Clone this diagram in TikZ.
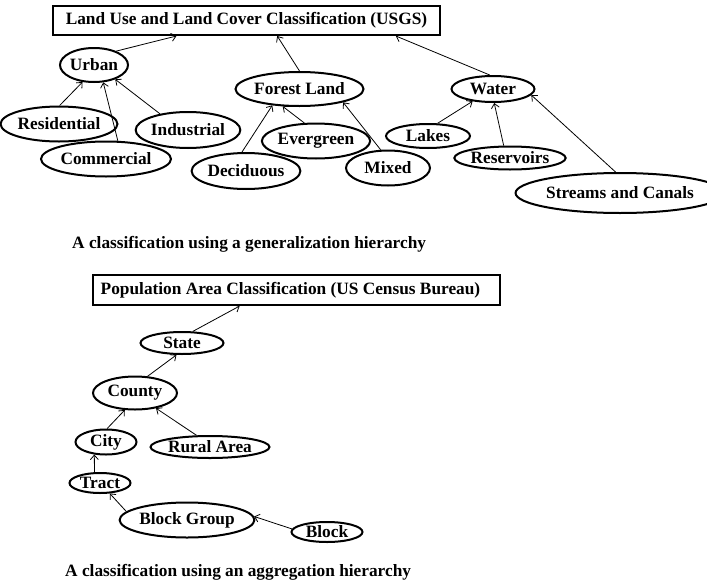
\documentclass[tikz,border=0pt]{standalone}
\usepackage{fontspec}
\setmainfont{Liberation Serif}
\usetikzlibrary{shapes.geometric,arrows.meta,calc}
\begin{document}
\begin{tikzpicture}[x=1pt,y=-1pt,
  every node/.style={font=\fontsize{17.3}{20}\selectfont\bfseries, inner sep=0pt},
  el/.style={draw, ellipse, line width=2pt},
  tbox/.style={draw, rectangle, line width=2pt},
  conn/.style={line width=0.8pt, -{Straight Barb[length=4.5pt,width=8pt,line width=0.8pt]}},
  captext/.style={anchor=base west}]
\useasboundingbox (0,0) rectangle (707,581);
% ---------- top hierarchy ----------
\node[tbox, minimum width=387, minimum height=29] (usgs) at (246.5,20.5) {Land Use and Land Cover Classification (USGS)};
\node[el, minimum width=62, minimum height=34] (urban) at (94,65) {Urban};
\node[el, minimum width=94, minimum height=35] (resid) at (59,124) {Residential};
\node[el, minimum width=130, minimum height=35] (comm) at (106,159) {Commercial};
\node[el, minimum width=96, minimum height=36] (indus) at (188,130) {Industrial};
\node[el, minimum width=117, minimum height=34] (forest) at (299.5,89) {Forest Land};
\node[el, minimum width=94, minimum height=35] (everg) at (316,141) {Evergreen};
\node[el, minimum width=94, minimum height=36] (decid) at (246,171) {Deciduous};
\node[el, minimum width=84, minimum height=35] (mixed) at (388,168) {Mixed};
\node[el, minimum width=83, minimum height=26] (water) at (493,89) {Water};
\node[el, minimum width=84, minimum height=24] (lakes) at (428,136) {Lakes};
\node[el, minimum width=107, minimum height=23] (reserv) at (510,158) {Reservoirs};
\node[el, minimum width=170, minimum height=40] (streams) at (620,193) {Streams and Canals};

\draw[conn] (urban.32) -- ($(usgs.south west)!0.32!(usgs.south east)$);
\draw[conn] (forest.90) -- ($(usgs.south west)!0.579!(usgs.south east)$);
\draw[conn] (water.103) -- ($(usgs.south west)!0.884!(usgs.south east)$);
\draw[conn] (resid.88) -- (urban.236);
\draw[conn] (comm.57) -- (urban.298);
\draw[conn] (indus.150) -- (urban.326);
\draw[conn] (decid.102) -- (forest.211);
\draw[conn] (everg.123) -- (forest.226);
\draw[conn] (mixed.112) -- (forest.343);
\draw[conn] (lakes.53) -- (water.211);
\draw[conn] (reserv.117) -- (water.275);
\draw[conn] (streams.102) -- (water.351);

\node[captext] (cap1) at (72,248) {A classification using a generalization hierarchy};

% ---------- bottom hierarchy ----------
\node[tbox, minimum width=407, minimum height=30] (census) at (296.5,290) {\hspace*{-12pt}Population Area Classification (US Census Bureau)};
\node[el, minimum width=83, minimum height=22] (state) at (182,343) {State};
\node[el, minimum width=84, minimum height=33] (county) at (135,393) {County};
\node[el, minimum width=61, minimum height=25] (city) at (106,442) {City};
\node[el, minimum width=119, minimum height=22] (rural) at (210,447) {Rural Area};
\node[el, minimum width=61, minimum height=20] (tract) at (100,483) {Tract};
\node[el, minimum width=119, minimum height=35] (bgroup) at (187,520) {Block Group};
\node[el, minimum width=71, minimum height=20] (block) at (327,532) {Block};

\draw[conn] (state.47) -- ($(census.south west)!0.361!(census.south east)$);
\draw[conn] (county.53) -- (state.245);
\draw[conn] (city.85) -- (county.239);
\draw[conn] (rural.139) -- (county.324);
\draw[conn] (tract.117) -- (city.227);
\draw[conn] (bgroup.172) -- (tract.313);
\draw[conn] (block.175) -- (bgroup.3);

\node[captext] (cap2) at (65,576) {A classification using an aggregation hierarchy};
\end{tikzpicture}
\end{document}
